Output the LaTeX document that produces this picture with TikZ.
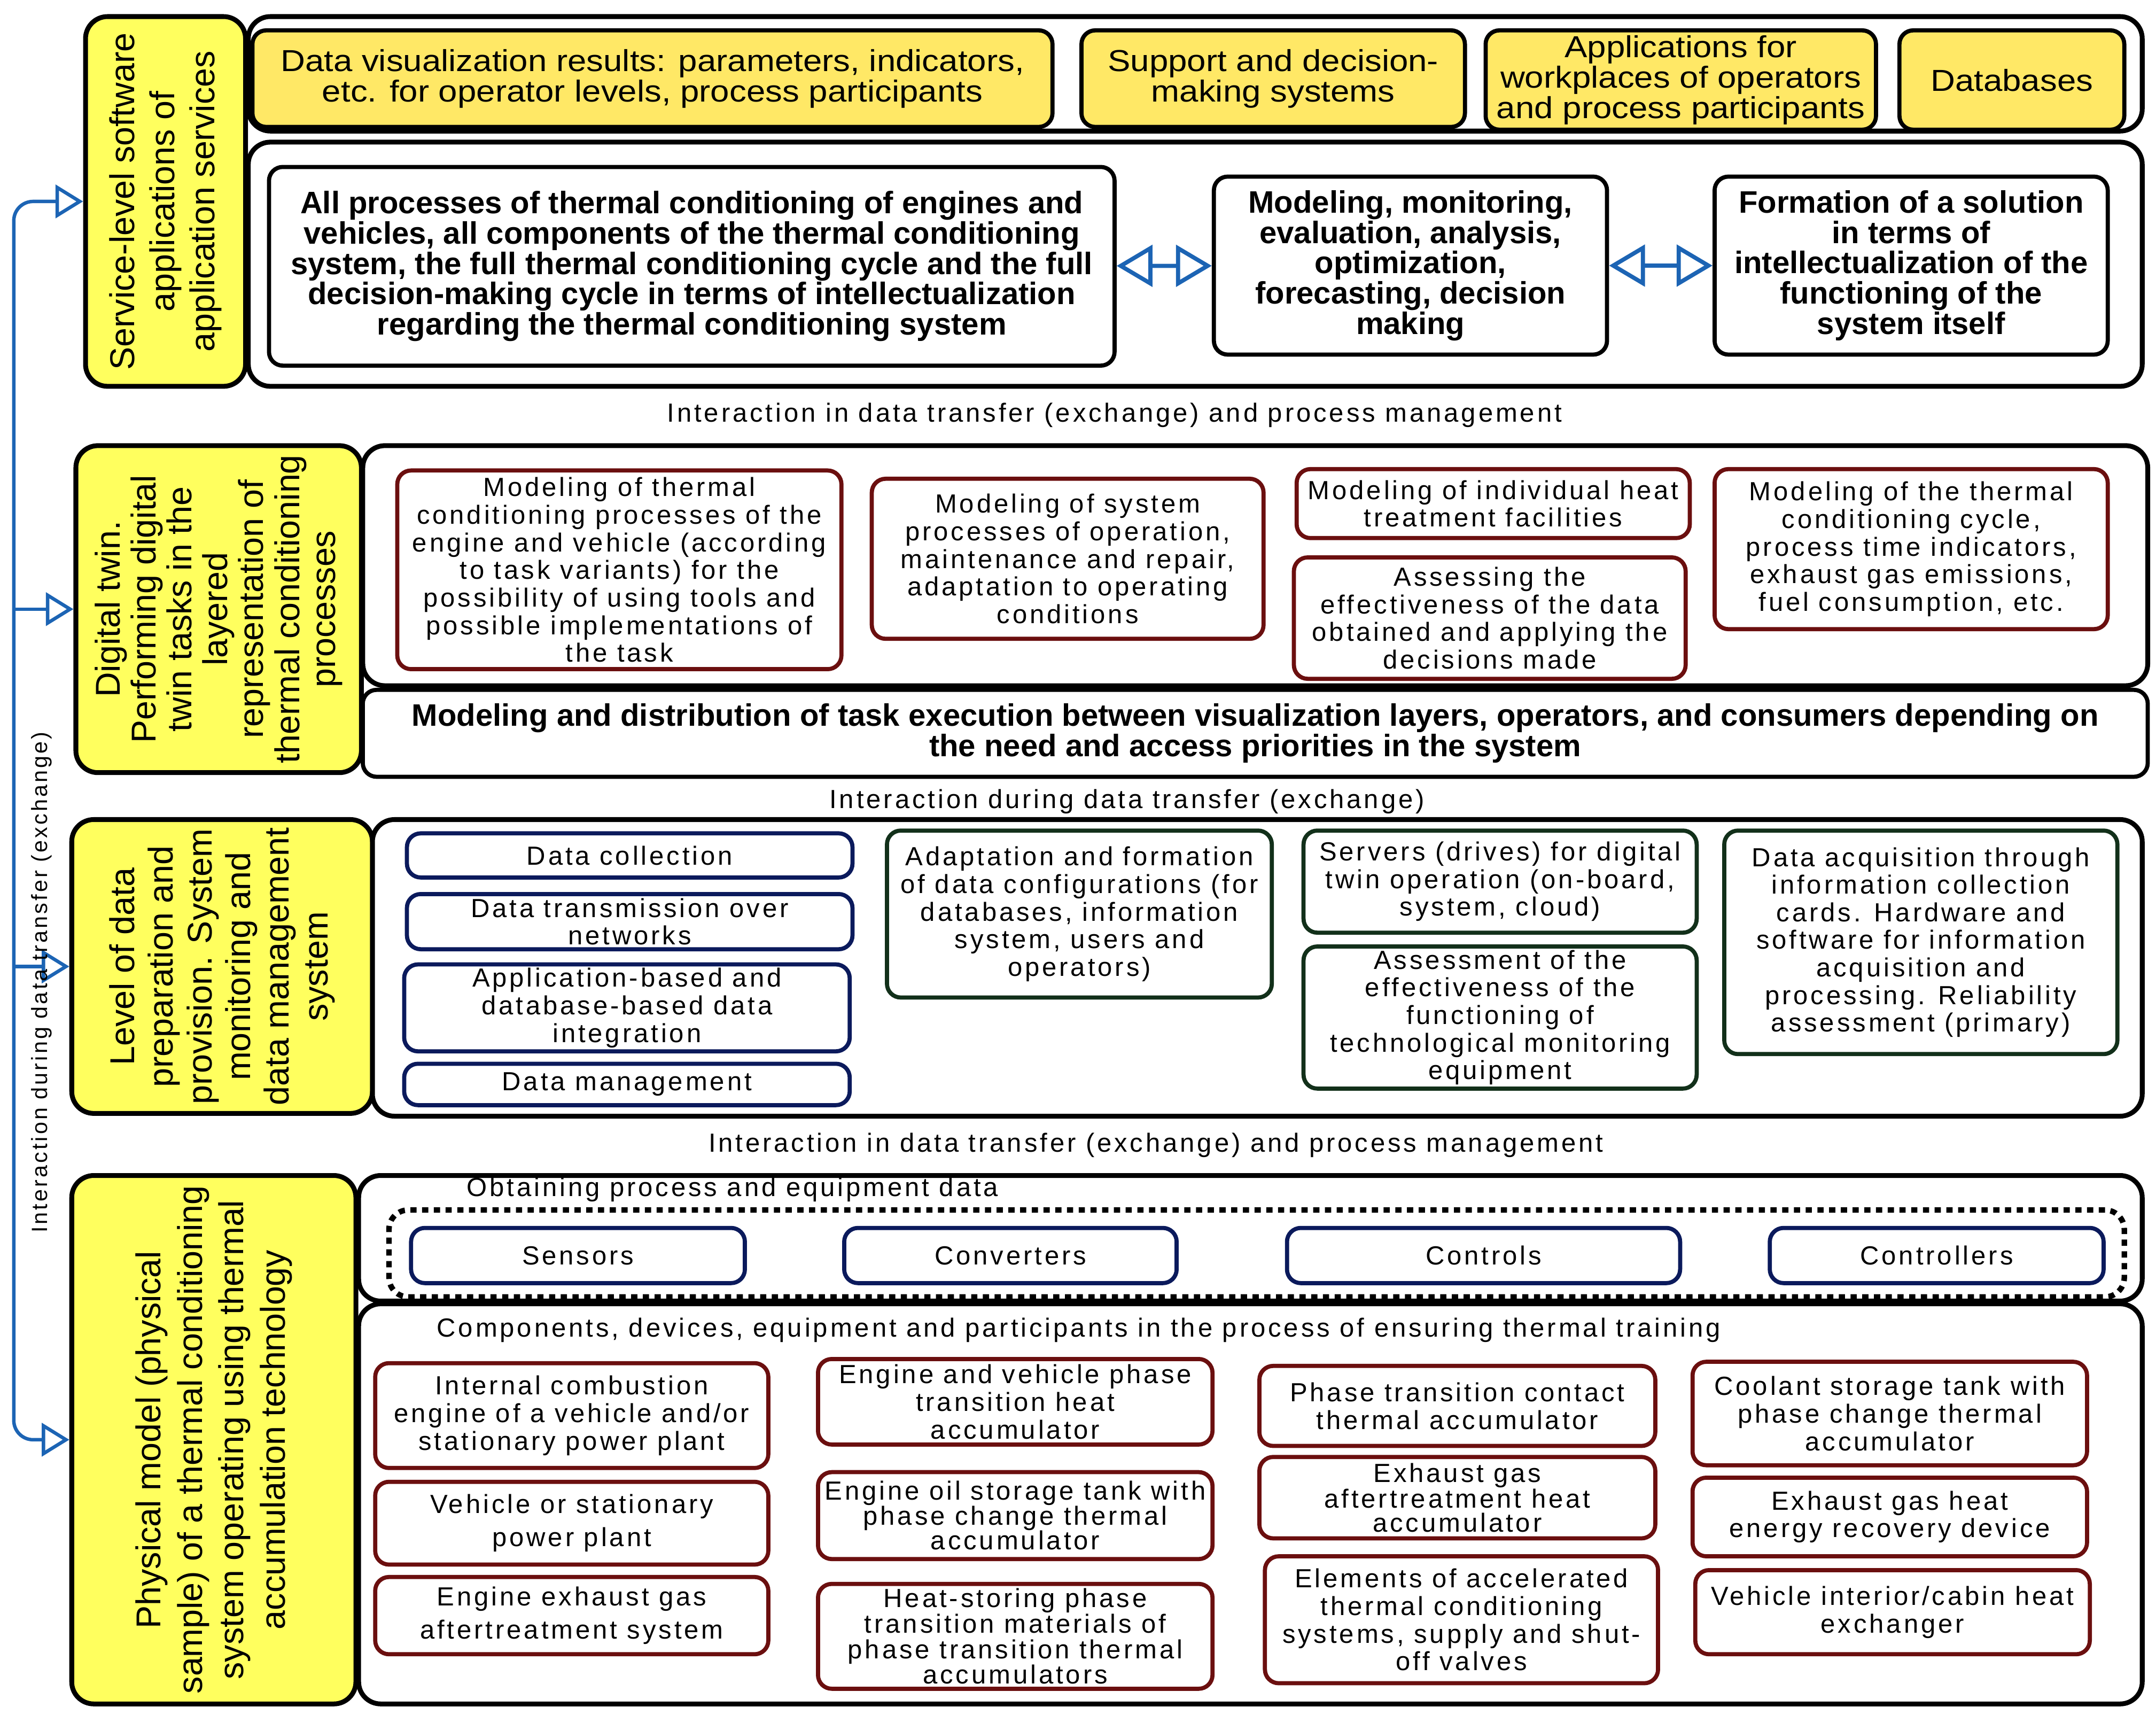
\documentclass[tikz,border=0pt]{standalone}
\usepackage{fontspec}
\setmainfont{Liberation Sans}
\newfontfamily\topfont[FakeStretch=1.12]{Liberation Sans}
\newfontfamily\taskfont{Liberation Sans}
\newfontfamily\trackfont[LetterSpace=10]{Liberation Sans}
\usetikzlibrary{arrows.meta, positioning}
\definecolor{labelyellow}{HTML}{FFFF5E}
\definecolor{topyellow}{HTML}{FFE866}
\definecolor{boxred}{HTML}{6B0F0F}
\definecolor{boxnavy}{HTML}{0B1A5C}
\definecolor{boxgreen}{HTML}{12301A}
\definecolor{flowblue}{HTML}{1C64B4}
\tikzset{
        box/.style={draw, fill=white, line width=3pt, rounded corners=10pt, align=center, inner sep=1pt}, % every box
        layerframe/.style={box, line width=3.5pt, rounded corners=16pt}, % big frames of a level
        levelbox/.style={layerframe, fill=labelyellow, rotate=90, font=\fontsize{25}{29}\selectfont}, % yellow level titles
        topbox/.style={box, fill=topyellow, font=\topfont\fontsize{22}{22}\selectfont}, % yellow service boxes
        taskbox/.style={box, font=\taskfont\bfseries\fontsize{22.5}{22}\selectfont}, % bold white boxes
        redbox/.style={box, draw=boxred, font=\trackfont\fontsize{19}{20}\selectfont}, % modelling / components
        navybox/.style={redbox, draw=boxnavy}, % data handling, sensors
        greenbox/.style={redbox, draw=boxgreen}, % servers, acquisition
        note/.style={inner sep=0pt, font=\trackfont\fontsize{19}{20}\selectfont}, % free texts
        flow/.style={draw=flowblue, line width=2.5pt, -{Triangle[open, length=20pt, width=24pt]}}, % left feedback arrows
        trunk/.style={flow, rounded corners=14pt, {Triangle[open, length=20pt, width=24pt]}-{Triangle[open, length=20pt, width=24pt]}},
        twoway/.style={draw=flowblue, line width=3pt, {Triangle[open, length=26pt, width=30pt]}-{Triangle[open, length=26pt, width=30pt]}},
    }
\begin{document}
\begin{tikzpicture}[x=1pt, y=-1pt]
    \useasboundingbox[fill=white] (0,0) rectangle (1563,1243);
    % level 1: services
    \node[levelbox, minimum width=268pt, minimum height=116pt] (lev1) at (120,146) {Service-level software\\applications of\\application services};
    \node[layerframe, minimum width=1373pt, minimum height=83pt] (row1) at (866.5,53.5) {};
    \node[layerframe, minimum width=1373pt, minimum height=177pt] (row2) at (866.5,191.5) {};
    \node[topbox, minimum width=580pt, minimum height=70pt] (vis) at (473,57) {Data visualization results: parameters, indicators,\\etc. for operator levels, process participants};
    \node[topbox, minimum width=278pt, minimum height=70pt] (sup) at (923,57) {Support and decision-\\making systems};
    \node[topbox, minimum width=283pt, minimum height=72pt] (apps) at (1218.5,58) {Applications for\\workplaces of operators\\and process participants};
    \node[topbox, minimum width=163pt, minimum height=72pt] (dbs) at (1458.5,58) {Databases};
    \node[taskbox, minimum width=613pt, minimum height=144pt] (allproc) at (501.5,193) {All processes of thermal conditioning of engines and\\vehicles, all components of the thermal conditioning\\system, the full thermal conditioning cycle and the full\\decision-making cycle in terms of intellectualization\\regarding the thermal conditioning system};
    \node[taskbox, minimum width=285pt, minimum height=129pt] (modmon) at (1022.5,192.5) {Modeling, monitoring,\\evaluation, analysis,\\optimization,\\forecasting, decision\\making};
    \node[taskbox, minimum width=285pt, minimum height=129pt] (form) at (1385.5,192.5) {Formation of a solution\\in terms of\\intellectualization of the\\functioning of the\\system itself};
    \draw[twoway] (allproc) -- (modmon);
    \draw[twoway] (modmon) -- (form);
    \node[note] (int1) at (808,301) {Interaction in data transfer (exchange) and process management};

    % level 2: digital twin
    \node[levelbox, minimum width=237pt, minimum height=207pt, font=\fontsize{25}{26}\selectfont] (lev2) at (158.5,441.5) {Digital twin.\\Performing digital\\twin tasks in the\\layered\\representation of\\thermal conditioning\\processes};
    \node[layerframe, minimum width=1294pt, minimum height=174pt] (tasks) at (910,410) {};
    \node[layerframe, taskbox, minimum width=1294pt, minimum height=63pt] (dist) at (910,531.5) {Modeling and distribution of task execution between visualization layers, operators, and consumers depending on\\the need and access priorities in the system};
    \node[redbox, minimum width=322pt, minimum height=144pt] (m1) at (449,413) {Modeling of thermal\\conditioning processes of the\\engine and vehicle (according\\to task variants) for the\\possibility of using tools and\\possible implementations of\\the task};
    \node[redbox, minimum width=284pt, minimum height=116pt] (m2) at (774,405) {Modeling of system\\processes of operation,\\maintenance and repair,\\adaptation to operating\\conditions};
    \node[redbox, minimum width=285pt, minimum height=50pt] (m3) at (1082.5,365) {Modeling of individual heat\\treatment facilities};
    \node[redbox, minimum width=284pt, minimum height=88pt] (m4) at (1080,448) {Assessing the\\effectiveness of the data\\obtained and applying the\\decisions made};
    \node[redbox, minimum width=285pt, minimum height=116pt] (m5) at (1385.5,398) {Modeling of the thermal\\conditioning cycle,\\process time indicators,\\exhaust gas emissions,\\fuel consumption, etc.};
    \node[note] (int2) at (817,581) {Interaction during data transfer (exchange)};

    % level 3: data preparation
    \node[levelbox, minimum width=213pt, minimum height=218pt, font=\fontsize{25}{28}\selectfont] (lev3) at (161,700.5) {Level of data\\preparation and\\provision. System\\monitoring and\\data management\\system};
    \node[layerframe, minimum width=1283pt, minimum height=215pt] (data) at (911.5,701.5) {};
    \node[navybox, minimum width=323pt, minimum height=32pt] (d1) at (456.5,620) {Data collection};
    \node[navybox, minimum width=323pt, minimum height=40pt] (d2) at (456.5,668) {Data transmission over\\networks};
    \node[navybox, minimum width=323pt, minimum height=63pt] (d3) at (454.5,730.5) {Application-based and\\database-based data\\integration};
    \node[navybox, minimum width=323pt, minimum height=30pt] (d4) at (454.5,786) {Data management};
    \node[greenbox, minimum width=279pt, minimum height=121pt] (a1) at (782.5,662.5) {Adaptation and formation\\of data configurations (for\\databases, information\\system, users and\\operators)};
    \node[greenbox, minimum width=285pt, minimum height=74pt] (s1) at (1087.5,639) {Servers (drives) for digital\\twin operation (on-board,\\system, cloud)};
    \node[greenbox, minimum width=285pt, minimum height=103pt] (s2) at (1087.5,737.5) {Assessment of the\\effectiveness of the\\functioning of\\technological monitoring\\equipment};
    \node[greenbox, minimum width=285pt, minimum height=162pt] (q1) at (1392.5,683) {Data acquisition through\\information collection\\cards. Hardware and\\software for information\\acquisition and\\processing. Reliability\\assessment (primary)};
    \node[note] (int3) at (838,830) {Interaction in data transfer (exchange) and process management};

    % level 4: physical model
    \node[levelbox, minimum width=383pt, minimum height=206pt, font=\fontsize{25}{30}\selectfont] (lev4) at (155,1043.5) {Physical model (physical\\sample) of a thermal conditioning\\system operating using thermal\\accumulation technology};
    \node[layerframe, minimum width=1293pt, minimum height=91pt] (equip) at (906.5,897.5) {};
    \node[layerframe, minimum width=1293pt, minimum height=290pt] (parts) at (906.5,1090) {};
    \node[note] (obtain) at (531,862) {Obtaining process and equipment data};
    \node[draw, line width=4pt, dash pattern=on 4.5pt off 4pt, rounded corners=14pt, minimum width=1258pt, minimum height=63pt] (probes) at (911,908.5) {};
    \node[navybox, minimum width=242pt, minimum height=40pt] (sens) at (419,910) {Sensors};
    \node[navybox, minimum width=241pt, minimum height=40pt] (conv) at (732.5,910) {Converters};
    \node[navybox, minimum width=285pt, minimum height=40pt] (ctrls) at (1075.5,910) {Controls};
    \node[navybox, minimum width=242pt, minimum height=40pt] (ctrlr) at (1404,910) {Controllers};
    \node[note] (comp) at (782,964) {Components, devices, equipment and participants in the process of ensuring thermal training};
    \node[redbox, minimum width=285pt, minimum height=76pt] (c11) at (414.5,1026) {Internal combustion\\engine of a vehicle and/or\\stationary power plant};
    \node[redbox, minimum width=285pt, minimum height=60pt, font=\trackfont\fontsize{19}{24}\selectfont] (c12) at (414.5,1104) {Vehicle or stationary\\power plant};
    \node[redbox, minimum width=285pt, minimum height=56pt, font=\trackfont\fontsize{19}{24}\selectfont] (c13) at (414.5,1171) {Engine exhaust gas\\aftertreatment system};
    \node[redbox, minimum width=286pt, minimum height=62pt] (c21) at (736,1016) {Engine and vehicle phase\\transition heat\\accumulator};
    \node[redbox, minimum width=286pt, minimum height=63pt, font=\trackfont\fontsize{19}{18}\selectfont] (c22) at (736,1098.5) {Engine oil storage tank with\\phase change thermal\\accumulator};
    \node[redbox, minimum width=286pt, minimum height=76pt, font=\trackfont\fontsize{19}{18.5}\selectfont] (c23) at (736,1186) {Heat-storing phase\\transition materials of\\phase transition thermal\\accumulators};
    \node[redbox, minimum width=287pt, minimum height=58pt] (c31) at (1056.5,1019) {Phase transition contact\\thermal accumulator};
    \node[redbox, minimum width=287pt, minimum height=59pt, font=\trackfont\fontsize{19}{17.5}\selectfont] (c32) at (1056.5,1085.5) {Exhaust gas\\aftertreatment heat\\accumulator};
    \node[redbox, minimum width=285pt, minimum height=92pt] (c33) at (1059.5,1174) {Elements of accelerated\\thermal conditioning\\systems, supply and shut-\\off valves};
    \node[redbox, minimum width=286pt, minimum height=75pt] (c41) at (1370,1024.5) {Coolant storage tank with\\phase change thermal\\accumulator};
    \node[redbox, minimum width=286pt, minimum height=57pt] (c42) at (1370,1099.5) {Exhaust gas heat\\energy recovery device};
    \node[redbox, minimum width=286pt, minimum height=61pt] (c43) at (1372,1168.5) {Vehicle interior/cabin heat\\exchanger};

    % feedback line on the left
    \coordinate (trunk) at (10,1043.5);
    \draw[trunk] (lev1) -| (trunk) -- (lev4);
    \draw[flow] (trunk |- lev2) -- (lev2);
    \draw[flow] (trunk |- lev3) -- (lev3);
    \node[note, rotate=90, font=\trackfont\fontsize{16}{16}\selectfont] (side) at (30,712) {Interaction during data transfer (exchange)};
\end{tikzpicture}
\end{document}
